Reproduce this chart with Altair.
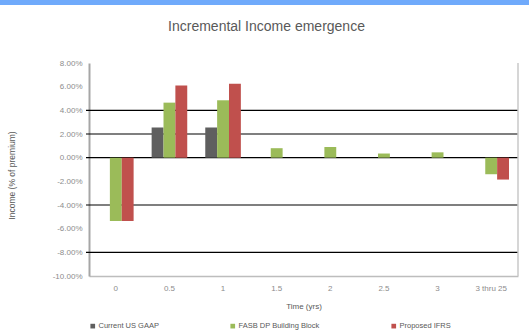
import altair as alt
import pandas as pd

categories = ["0", "0.5", "1", "1.5", "2", "2.5", "3", "3 thru 25"]
series = ["Current US GAAP", "FASB DP Building Block", "Proposed IFRS"]
gaap = [0.0, 2.55, 2.55, 0.0, 0.0, 0.0, 0.0, 0.0]
fasb = [-5.35, 4.65, 4.85, 0.8, 0.9, 0.35, 0.45, -1.4]
ifrs = [-5.35, 6.1, 6.25, 0.0, 0.0, 0.0, 0.0, -1.85]
colors = ["#5f5f5f", "#9bbb59", "#c0504d"]
y_ticks = [8, 6, 4, 2, 0, -2, -4, -6, -8, -10]
grid_values = [4, 2, 0, -4, -8]

rows = []
for s, vals in zip(series, [gaap, fasb, ifrs]):
    for c, v in zip(categories, vals):
        rows.append({"time": c, "series": s, "value": v})
df = pd.DataFrame(rows)

W, H = 429, 213
FONT = "Liberation Sans"

yscale = alt.Scale(domain=[-10, 8], nice=False)

yaxis = alt.Axis(
    values=y_ticks,
    labelExpr="replace(format(datum.value, '.2f'), '\u2212', '-') + '%'",
    labelOverlap=False,
    grid=False,
    ticks=False,
    domainColor="#a6a6a6",
    domainWidth=2,
    labelFontSize=8,
    labelColor="#8c8c8c",
    labelFont=FONT,
    labelPadding=7,
    title="Income (% of premium)",
    titleFont=FONT,
    titleFontSize=8.5,
    titleFontWeight="normal",
    titleColor="#595959",
    titleAngle=270,
    titleX=-78,
    titleY=112,
    titleAlign="center",
    titleBaseline="middle",
)

grid = alt.Chart(pd.DataFrame({"g": grid_values})).mark_rule(
    color="#000000", strokeWidth=1.1
).encode(
    y=alt.Y("g:Q", scale=yscale, axis=yaxis),
    x=alt.value(-3),
    x2=alt.value(W),
)

bars = alt.Chart(df).mark_bar().encode(
    x=alt.X(
        "time:N",
        sort=categories,
        scale=alt.Scale(paddingInner=0.336, paddingOuter=0.168),
        axis=alt.Axis(
            title="Time (yrs)",
            labelAngle=0,
            ticks=False,
            domain=True,
            domainColor="#bdbdbd",
            domainWidth=1.5,
            labelPadding=8,
            labelFontSize=8,
            labelColor="#8c8c8c",
            labelFont=FONT,
            titleFont=FONT,
            titleFontSize=8,
            titleFontWeight="normal",
            titleColor="#595959",
            titlePadding=10,
        ),
    ),
    xOffset=alt.XOffset("series:N", sort=series, scale=alt.Scale(paddingInner=0, paddingOuter=0)),
    y=alt.Y("value:Q", scale=yscale, axis=yaxis),
    color=alt.Color(
        "series:N",
        scale=alt.Scale(domain=series, range=colors),
        legend=alt.Legend(
            title=None,
            orient="none",
            direction="horizontal",
            legendX=0,
            legendY=259,
            symbolType="square",
            symbolSize=22,
            symbolStrokeWidth=0,
            labelFontSize=7.5,
            labelFont=FONT,
            labelColor="#595959",
            labelOffset=2,
            columnPadding=70,
        ),
    ),
)

right_border = alt.Chart(pd.DataFrame({"k": [0]})).mark_rule(
    color="#c8c8c8", strokeWidth=1.5
).encode(x=alt.value(W), y=alt.value(0), y2=alt.value(H))

top_bar = alt.Chart(pd.DataFrame({"k": [0]})).mark_rect(color="#70aafb").encode(
    x=alt.value(-89), x2=alt.value(W + 11), y=alt.value(-63), y2=alt.value(-58)
)

chart = alt.layer(top_bar, grid, bars, right_border).properties(
    width=W,
    height=H,
    autosize=alt.AutoSizeParams(type="none"),
    padding={"left": 89, "top": 63, "right": 11, "bottom": 57},
    title=alt.TitleParams(
        "Incremental Income emergence",
        font=FONT,
        fontSize=14,
        fontWeight="normal",
        color="#595959",
        anchor="middle",
        dx=-37,
        offset=-34,
    ),
).configure(background="white").configure_view(strokeWidth=0).configure_axisY(labelOverlap=False)

chart.save("out.html", embed_options={"renderer": "svg", "actions": False})
